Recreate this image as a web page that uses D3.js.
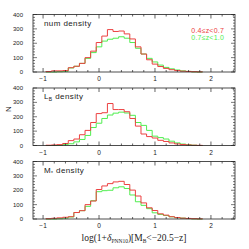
<!DOCTYPE html>
<html>
<head>
<meta charset="utf-8">
<script src="https://cdn.jsdelivr.net/npm/d3@7"></script>
<style>
  body { margin: 0; background: #fff; }
  text { font-family: "Liberation Sans", Arial, sans-serif; }
</style>
</head>
<body>
<div id="chart"></div>
<script>
const binCenters = [-0.9,-0.8,-0.7,-0.6,-0.5,-0.4,-0.3,-0.2,-0.1,0.0,0.1,0.2,0.3,0.4,0.5,0.6,0.7,0.8,0.9,1.0,1.1,1.2,1.3,1.4,1.5,1.6,1.7,1.8];
const binWidth = 0.1;

const numRed   = [3,8,8,10,30,40,60,100,145,205,250,295,282,285,265,230,175,125,85,55,38,25,16,10,6,4,2,1];
const numGreen = [0,0,2,5,28,40,60,95,135,175,215,228,235,245,235,205,165,125,95,70,48,32,22,14,8,4,1,0];
const lbRed    = [2,4,6,14,34,45,75,105,160,222,228,292,250,250,235,188,135,80,62,52,36,28,18,11,7,4,2,1];
const lbGreen  = [0,0,2,6,12,25,42,70,125,155,188,212,225,232,226,210,160,140,105,65,55,45,30,18,10,5,2,0];
const msRed    = [2,5,8,12,16,45,58,100,125,205,230,246,258,262,240,201,160,112,78,59,36,27,16,10,6,4,2,1];
const msGreen  = [0,0,2,6,14,45,58,88,127,190,197,200,217,224,212,167,120,95,72,43,32,24,15,9,6,3,1,0];

const panelLabels = ['num density', 'L_B density', 'M_* density'];
const legendLabels = ['0.4\u2264z<0.7', '0.7\u2264z<1.0'];
const xTicks = [-1, 0, 1, 2];
const yTicks = [0, 100, 200, 300, 400];

const panels = [
  { red: numRed, green: numGreen, label: panelLabels[0] },
  { red: lbRed, green: lbGreen, label: panelLabels[1] },
  { red: msRed, green: msGreen, label: panelLabels[2] }
];

const width = 249;
const height = 249;
const left = 33, right = 235;
const tops = [14.5, 88, 161.5];
const panelH = 57.5;
const colors = ['#ec4040', '#50ee50'];

const svg = d3.select('#chart')
  .append('svg')
  .attr('width', width)
  .attr('height', height);

const x = d3.scaleLinear().domain([-1.18, 2.43]).range([left, right]);

function histPoints(values) {
  const pts = [[binCenters[0] - binWidth / 2, 0]];
  values.forEach((v, i) => {
    pts.push([binCenters[i] - binWidth / 2, v]);
    pts.push([binCenters[i] + binWidth / 2, v]);
  });
  pts.push([binCenters[binCenters.length - 1] + binWidth / 2, 0]);
  return pts;
}

panels.forEach((p, k) => {
  const top = tops[k];
  const y = d3.scaleLinear().domain([0, 400]).range([top + panelH, top]);
  const g = svg.append('g');

  const line = d3.line().x(d => x(d[0])).y(d => y(d[1]));

  g.append('path')
    .attr('d', line(histPoints(p.green)))
    .attr('fill', 'none')
    .attr('stroke', colors[1])
    .attr('stroke-width', 1);

  g.append('path')
    .attr('d', line(histPoints(p.red)))
    .attr('fill', 'none')
    .attr('stroke', colors[0])
    .attr('stroke-width', 1);

  // frame
  g.append('rect')
    .attr('x', left).attr('y', top)
    .attr('width', right - left).attr('height', panelH)
    .attr('fill', 'none').attr('stroke', '#222').attr('stroke-width', 0.8);

  // x ticks (inward, top and bottom)
  const xMinor = d3.range(-1.0, 2.41, 0.2).map(v => +v.toFixed(1));
  xMinor.forEach(v => {
    const major = xTicks.includes(v);
    const len = major ? 4 : 2;
    g.append('line').attr('x1', x(v)).attr('x2', x(v))
      .attr('y1', top + panelH).attr('y2', top + panelH - len)
      .attr('stroke', '#222').attr('stroke-width', 0.7);
    g.append('line').attr('x1', x(v)).attr('x2', x(v))
      .attr('y1', top).attr('y2', top + len)
      .attr('stroke', '#222').attr('stroke-width', 0.7);
  });

  // y ticks (inward, left and right)
  d3.range(0, 401, 20).forEach(v => {
    const len = v % 100 === 0 ? 4 : 2;
    g.append('line').attr('x1', left).attr('x2', left + len)
      .attr('y1', y(v)).attr('y2', y(v))
      .attr('stroke', '#222').attr('stroke-width', 0.6);
    g.append('line').attr('x1', right).attr('x2', right - len)
      .attr('y1', y(v)).attr('y2', y(v))
      .attr('stroke', '#222').attr('stroke-width', 0.6);
  });

  g.selectAll('.ylab')
    .data(yTicks)
    .enter()
    .append('text')
    .text(d => d)
    .attr('x', 23)
    .attr('y', d => y(d))
    .attr('dy', '.35em')
    .attr('text-anchor', 'end')
    .style('font-size', '6px')
    .attr('fill', '#222');

  g.selectAll('.xlab')
    .data(xTicks)
    .enter()
    .append('text')
    .text(d => d === -1 ? '\u22121' : d)
    .attr('x', d => x(d))
    .attr('y', top + panelH + 9)
    .attr('text-anchor', 'middle')
    .style('font-size', '6.5px')
    .attr('fill', '#222');

  // panel label
  const lab = g.append('text')
    .attr('x', 44)
    .attr('y', top + 11)
    .style('font-size', '8px')
    .style('letter-spacing', '0.4px')
    .attr('fill', '#222');
  if (k === 0) {
    lab.text(p.label);
  } else {
    const parts = p.label.split('_');
    lab.append('tspan').text(parts[0]);
    lab.append('tspan').text(k === 1 ? 'B' : '*')
      .attr('dy', 2).style('font-size', '5px');
    lab.append('tspan').text(' density').attr('dy', -2);
  }

  if (k === 0) {
    legendLabels.forEach((t, i) => {
      g.append('text')
        .text(t)
        .attr('x', 224)
        .attr('y', top + 18 + i * 7)
        .attr('text-anchor', 'end')
        .style('font-size', '7px')
        .style('letter-spacing', '0.2px')
        .attr('fill', colors[i]);
    });
  }
});

// y label
svg.append('text')
  .text('N')
  .attr('transform', 'translate(11,109) rotate(-90)')
  .attr('text-anchor', 'middle')
  .style('font-size', '8px')
  .attr('fill', '#222');

// x label
const xl = svg.append('text')
  .attr('x', 134)
  .attr('y', 241)
  .attr('text-anchor', 'middle')
  .style('font-family', '"Liberation Serif", "DejaVu Serif", serif')
  .style('font-size', '9.5px')
  .attr('fill', '#222');
xl.append('tspan').text('log(1+');
xl.append('tspan').text('\u03b4').style('font-style', 'italic');
xl.append('tspan').text('PNN10').attr('dy', 2).style('font-size', '5.5px');
xl.append('tspan').text(')[M').attr('dy', -2);
xl.append('tspan').text('B').attr('dy', 2).style('font-size', '5.5px');
xl.append('tspan').text('<\u221220.5\u2212z]').attr('dy', -2);
</script>
</body>
</html>
